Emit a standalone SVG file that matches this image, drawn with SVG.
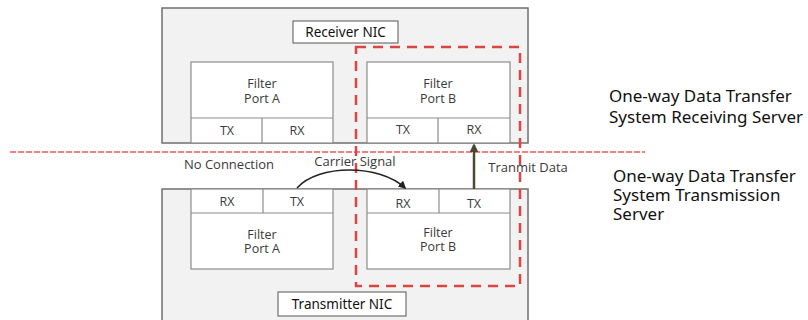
<svg xmlns="http://www.w3.org/2000/svg" width="808" height="320" viewBox="0 0 808 320">
  <defs>
    <style>
      .nic { fill: #f2f2f2; stroke: #6f6f6f; stroke-width: 1.5; }
      .port { fill: #ffffff; stroke: #8c8c8c; stroke-width: 1.2; }
      .div { stroke: #8c8c8c; stroke-width: 1.2; }
      .tag { fill: #ffffff; stroke: #555555; stroke-width: 1; }
      .lbl { font-family: "Open Sans", "Noto Sans", sans-serif; font-size: 12.5px; fill: #3a3a3a; text-anchor: middle; }
      .free { font-family: "Open Sans", "Noto Sans", sans-serif; font-size: 13px; fill: #3a3a3a; text-anchor: middle; }
      .tagtxt { font-family: "Noto Sans", "Open Sans", sans-serif; font-size: 13.5px; fill: #111111; text-anchor: middle; }
      .side { font-family: "Noto Sans", "Noto Sans CJK KR", sans-serif; font-size: 17px; fill: #111111; }
    </style>
    <marker id="arrowBlack" viewBox="0 0 10 10" refX="8" refY="5" markerWidth="8" markerHeight="8" orient="auto" markerUnits="userSpaceOnUse">
      <path d="M0,0 L10,5 L0,10 z" fill="#222222"/>
    </marker>
    <marker id="arrowOlive" viewBox="0 0 10 10" refX="8" refY="5" markerWidth="9" markerHeight="9" orient="auto" markerUnits="userSpaceOnUse">
      <path d="M0,0 L10,5 L0,10 z" fill="#4f4830"/>
    </marker>
  </defs>

  <rect width="808" height="320" fill="#ffffff"/>

  <!-- Receiver side -->
  <g id="receiver-nic">
    <rect class="nic" x="162" y="8" width="366" height="135"/>
    <rect class="tag" x="293" y="21" width="105" height="22"/>
    <text class="tagtxt" x="345.5" y="37">Receiver NIC</text>
  </g>
  <g id="receiver-port-a">
    <rect class="port" x="191" y="62" width="142" height="81"/>
    <line class="div" x1="191" y1="118" x2="333" y2="118"/>
    <line class="div" x1="262" y1="118" x2="262" y2="143"/>
    <text class="lbl"><tspan x="262" y="88">Filter</tspan><tspan x="262" y="103">Port A</tspan></text>
    <text class="lbl" x="227" y="135">TX</text>
    <text class="lbl" x="297" y="135">RX</text>
  </g>
  <g id="receiver-port-b">
    <rect class="port" x="367" y="62" width="143" height="81"/>
    <line class="div" x1="367" y1="118" x2="510" y2="118"/>
    <line class="div" x1="438" y1="118" x2="438" y2="143"/>
    <text class="lbl"><tspan x="438" y="88">Filter</tspan><tspan x="438" y="103">Port B</tspan></text>
    <text class="lbl" x="403" y="134">TX</text>
    <text class="lbl" x="474" y="134">RX</text>
  </g>

  <!-- Transmitter side -->
  <g id="transmitter-nic">
    <rect class="nic" x="162" y="189" width="366" height="140"/>
    <rect class="tag" x="278" y="292" width="128" height="24"/>
    <text class="tagtxt" x="342" y="309">Transmitter NIC</text>
  </g>
  <g id="transmitter-port-a">
    <rect class="port" x="191" y="189" width="142" height="80"/>
    <line class="div" x1="191" y1="213" x2="333" y2="213"/>
    <line class="div" x1="263" y1="189" x2="263" y2="213"/>
    <text class="lbl" x="227" y="206">RX</text>
    <text class="lbl" x="297" y="206">TX</text>
    <text class="lbl"><tspan x="262" y="239">Filter</tspan><tspan x="262" y="253">Port A</tspan></text>
  </g>
  <g id="transmitter-port-b">
    <rect class="port" x="367" y="189" width="143" height="80"/>
    <line class="div" x1="367" y1="213" x2="510" y2="213"/>
    <line class="div" x1="439" y1="189" x2="439" y2="213"/>
    <text class="lbl" x="403" y="208">RX</text>
    <text class="lbl" x="474" y="208">TX</text>
    <text class="lbl"><tspan x="438" y="237">Filter</tspan><tspan x="438" y="251">Port B</tspan></text>
  </g>

  <!-- Connectors and boundaries -->
  <g id="connectors">
    <line x1="10" y1="152" x2="645" y2="152" stroke="#ee5a5a" stroke-width="1.3" stroke-dasharray="6,2"/>
    <rect x="356" y="47" width="164" height="239" fill="none" stroke="#dd4444" stroke-width="2.5" stroke-dasharray="10,7"/>
    <path d="M297,188 C318,164 380,164 405,188" fill="none" stroke="#222222" stroke-width="1.5" marker-end="url(#arrowBlack)"/>
    <line x1="474" y1="189" x2="474" y2="145" stroke="#4f4830" stroke-width="2.5" marker-end="url(#arrowOlive)"/>
  </g>

  <!-- Free labels -->
  <text class="free" x="229" y="169">No Connection</text>
  <text class="free" x="355" y="166">Carrier Signal</text>
  <text class="free" x="528" y="172">Tranmit Data</text>

  <text class="side" x="609" y="102">One-way Data Transfer</text>
  <text class="side" x="609" y="123">System Receiving Server</text>
  <text class="side" x="613" y="182">One-way Data Transfer</text>
  <text class="side" x="613" y="201">System Transmission</text>
  <text class="side" x="613" y="220">Server</text>
</svg>
